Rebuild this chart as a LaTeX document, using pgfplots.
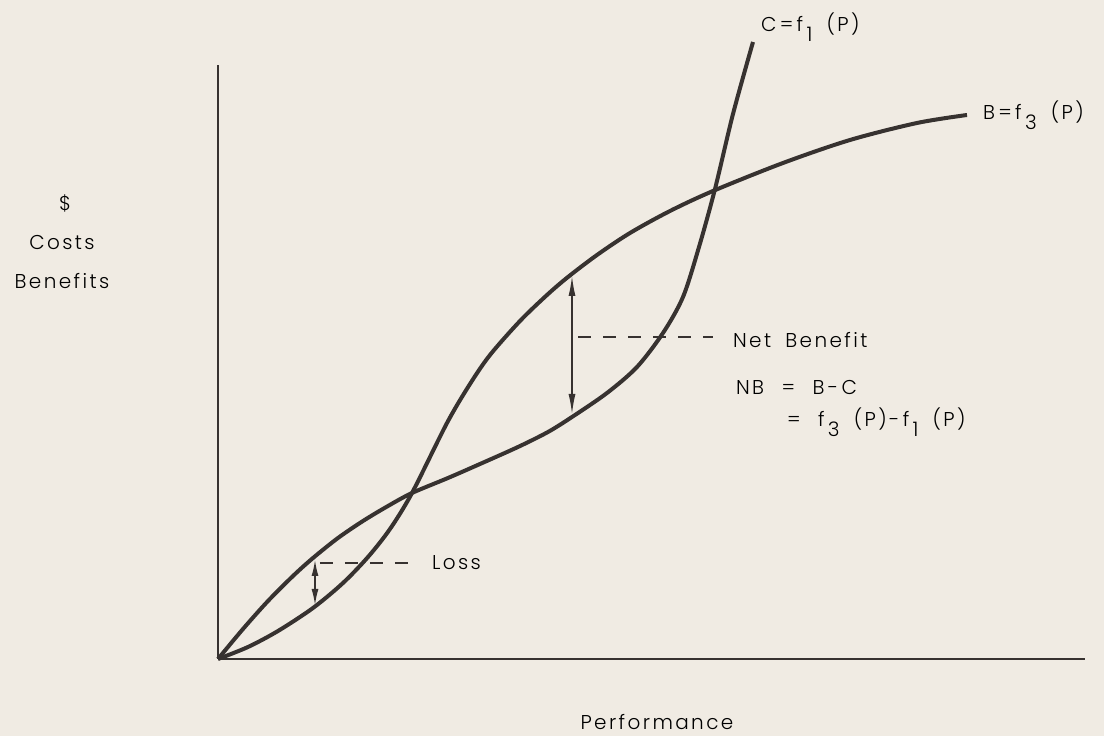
\documentclass[border=0pt]{standalone}
\usepackage{fontspec}
\setmainfont{Poppins Light}[LetterSpace=12, WordSpace=1.8]
\usepackage{pgfplots}
\pgfplotsset{compat=1.18}
\usetikzlibrary{arrows.meta}
\definecolor{ink}{RGB}{55,50,48}
\definecolor{paper}{RGB}{240,235,227}
\newcommand{\sub}[1]{\,\raisebox{-0.9ex}{#1}}
\begin{document}
\begin{tikzpicture}
\begin{axis}[
  x=0.5pt, y=0.5pt,
  xmin=0, xmax=867, ymin=0, ymax=594,
  axis lines=left,
  axis line style={-, line width=1pt, ink},
  xtick=\empty, ytick=\empty,
  clip=false, axis on top,
  every node/.append style={font=\fontsize{12.5}{14}\selectfont, text=ink, inner sep=0pt},
]
\fill[paper] (axis cs:-218,-77) rectangle (axis cs:886,659);
% B = f3(P)
\addplot[ink, line width=2pt, smooth, no marks] coordinates {
(0,0) (30,12) (60,28) (95,51) (125,76) (150,102) (172,130) (194,166)
(229,236) (252,275) (272,304) (302,338) (329,364) (350,382) (379,404)
(412,426) (452,448) (495,468) (565,496) (632,519) (699,536) (749,544)};
% C = f1(P)
\addplot[ink, line width=2pt, smooth, no marks] coordinates {
(0,0) (25,30) (50,58) (75,83) (95,101) (120,121) (145,138) (170,153) (194,166)
(230,181) (262,195) (300,212) (330,227) (354,242) (389,266) (419,292) (445,326) (465,362)
(481,412) (497,470) (515,545) (535,617)};
% net benefit arrow
\addplot[ink, line width=0.7pt, no marks, {Latex[length=10pt,width=3.5pt]}-{Latex[length=10pt,width=3.5pt]}] coordinates {(354,245) (354,383)};
\addplot[ink, line width=0.8pt, no marks, dash pattern=on 6.5pt off 6pt] coordinates {(360,322) (495,322)};
% loss arrow
\addplot[ink, line width=0.7pt, no marks, {Latex[length=8pt,width=3.5pt]}-{Latex[length=8pt,width=3.5pt]}] coordinates {(97,54) (97,99)};
\addplot[ink, line width=0.8pt, no marks, dash pattern=on 6.5pt off 6pt] coordinates {(102,96) (200,96)};
% labels
\node[anchor=west] at (axis cs:207,96) {Loss};
\node[anchor=west] at (axis cs:508,319) {Net Benefit};
\node[anchor=west] at (axis cs:511,271) {NB\, =\, B\,-\,C};
\node[anchor=west] at (axis cs:562,237) {=\, f\sub{3} (P)-\,f\sub{1} (P)};
\node[anchor=west] at (axis cs:536,632) {C\,=\,f\sub{1} (P)};
\node[anchor=west] at (axis cs:758,544) {B\,=\,f\sub{3} (P)};
\node at (axis cs:439,-63) {Performance};
\node at (axis cs:-153,456) {\$};
\node at (axis cs:-156,416) {Costs};
\node at (axis cs:-156,378) {Benefits};
\end{axis}
\end{tikzpicture}
\end{document}
